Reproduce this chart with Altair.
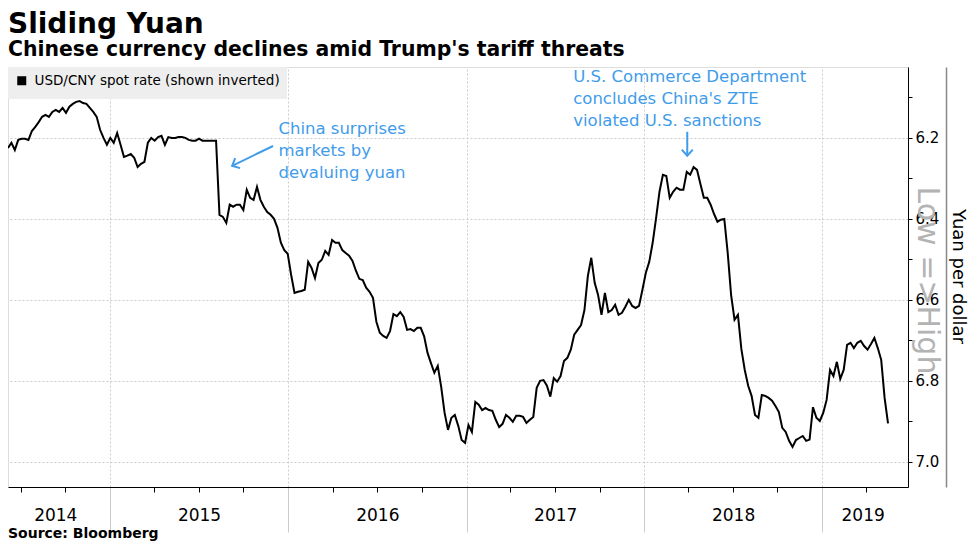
import altair as alt
import pandas as pd

FONT = "DejaVu Sans"
BLUE = "#3f9ceb"

title_text = "Sliding Yuan"
subtitle_text = "Chinese currency declines amid Trump's tariff threats"
source_text = "Source: Bloomberg"
series_name = "USD/CNY spot rate (shown inverted)"
y_title = "Yuan per dollar"
direction_title = "Low =>High"

# weekly USD/CNY readings, starting 2014-06-05
start_date = "2014-06-05"
usdcny = [
    6.225, 6.212, 6.230, 6.205, 6.202, 6.202, 6.205, 6.183, 6.173, 6.161,
    6.148, 6.143, 6.148, 6.136, 6.131, 6.136, 6.126, 6.138, 6.123, 6.116,
    6.111, 6.109, 6.114, 6.116, 6.126, 6.136, 6.148, 6.180, 6.200, 6.217,
    6.200, 6.212, 6.188, 6.217, 6.247, 6.244, 6.240, 6.249, 6.272, 6.264,
    6.259, 6.212, 6.200, 6.207, 6.198, 6.195, 6.217, 6.198, 6.200, 6.200,
    6.198, 6.198, 6.200, 6.205, 6.207, 6.207, 6.202, 6.207, 6.207, 6.207,
    6.207, 6.207, 6.390, 6.395, 6.410, 6.365, 6.370, 6.365, 6.365, 6.378,
    6.328, 6.348, 6.353, 6.321, 6.353, 6.370, 6.383, 6.390, 6.400, 6.422,
    6.459, 6.477, 6.486, 6.538, 6.583, 6.580, 6.578, 6.575, 6.506, 6.521,
    6.546, 6.509, 6.501, 6.479, 6.489, 6.452, 6.459, 6.459, 6.477, 6.484,
    6.491, 6.504, 6.528, 6.548, 6.551, 6.570, 6.580, 6.595, 6.654, 6.681,
    6.689, 6.694, 6.677, 6.635, 6.640, 6.630, 6.642, 6.674, 6.672, 6.677,
    6.669, 6.669, 6.690, 6.731, 6.756, 6.780, 6.763, 6.815, 6.879, 6.921,
    6.891, 6.884, 6.911, 6.946, 6.953, 6.909, 6.926, 6.852, 6.859, 6.872,
    6.867, 6.872, 6.874, 6.896, 6.914, 6.906, 6.884, 6.891, 6.901, 6.886,
    6.886, 6.889, 6.904, 6.896, 6.889, 6.817, 6.800, 6.798, 6.812, 6.839,
    6.793, 6.802, 6.788, 6.751, 6.743, 6.723, 6.686, 6.674, 6.662, 6.625,
    6.541, 6.496, 6.558, 6.588, 6.637, 6.583, 6.630, 6.625, 6.612, 6.637,
    6.632, 6.617, 6.600, 6.615, 6.620, 6.615, 6.575, 6.533, 6.506, 6.459,
    6.398, 6.333, 6.291, 6.294, 6.348, 6.333, 6.323, 6.328, 6.328, 6.284,
    6.291, 6.272, 6.279, 6.314, 6.348, 6.348, 6.365, 6.388, 6.407, 6.402,
    6.400, 6.484, 6.588, 6.649, 6.637, 6.721, 6.773, 6.812, 6.837, 6.884,
    6.891, 6.835, 6.837, 6.842, 6.849, 6.862, 6.877, 6.916, 6.926, 6.948,
    6.963, 6.946, 6.941, 6.936, 6.948, 6.945, 6.865, 6.891, 6.899, 6.879,
    6.847, 6.773, 6.788, 6.753, 6.795, 6.773, 6.711, 6.706, 6.719, 6.706,
    6.701, 6.714, 6.723, 6.709, 6.694, 6.719, 6.748, 6.842, 6.905,
]

x_domain = ["2014-06-05", "2019-06-26"]
y_domain = [6.025, 7.062]
years = [2014, 2015, 2016, 2017, 2018, 2019]
year_label_dates = ["2014-09-10", "2015-07-02", "2016-07-02", "2017-07-02", "2018-07-02", "2019-03-25"]
y_ticks = [6.1, 6.2, 6.3, 6.4, 6.5, 6.6, 6.7, 6.8, 6.9, 7.0]
y_grid = [6.2, 6.4, 6.6, 6.8, 7.0]

ann_dates = ["2015-12-12", "2017-08-08"]
ann_values = [6.158, 6.030]
ann_texts = ["China surprises\nmarkets by\ndevaluing yuan",
             "U.S. Commerce Department\nconcludes China's ZTE\nviolated U.S. sanctions"]
arrow_start_dates = ["2015-12-01", "2018-03-30"]
arrow_start_values = [6.220, 6.185]
arrow_end_dates = ["2015-09-08", "2018-03-30"]
arrow_end_values = [6.269, 6.244]
arrow_angles = [64, 0]


def dt(s):
    t = pd.Timestamp(s)
    return alt.DateTime(year=t.year, month=t.month, date=t.day)


lo, hi = pd.Timestamp(x_domain[0]), pd.Timestamp(x_domain[1])
quarter_ticks = [dt(f"{y}-{m:02d}-01") for y in years for m in (4, 7, 10)
                 if lo <= pd.Timestamp(f"{y}-{m:02d}-01") <= hi]
year_ticks = [dt(f"{y}-01-01") for y in years if lo <= pd.Timestamp(f"{y}-01-01") <= hi]
year_labels = [dt(s) for s in year_label_dates]

df = pd.DataFrame({
    "date": pd.date_range(start_date, periods=len(usdcny), freq="7D"),
    "rate": usdcny,
    "series": series_name,
})

xscale = alt.Scale(domain=[dt(x_domain[0]), dt(x_domain[1])])
yscale = alt.Scale(domain=y_domain, reverse=True, zero=False, nice=False)

base = alt.Chart(df)

main = base.mark_line(strokeWidth=2).encode(
    x=alt.X("date:T", scale=xscale, axis=alt.Axis(
        orient="bottom", values=quarter_ticks, labels=False, tickSize=5,
        tickColor="black", domainColor="black", grid=False, title=None)),
    y=alt.Y("rate:Q", scale=yscale, axis=alt.Axis(
        orient="right", values=y_ticks,
        labelExpr="round(datum.value*10) % 2 == 0 ? format(datum.value, '.1f') : ''",
        tickSize=4, tickColor="black", domainColor="black", grid=False,
        labelFontSize=15, labelColor="black", labelPadding=3, labelFont=FONT,
        title=direction_title, titleColor="#b3b3b3", titleFontSize=30,
        titleFontWeight="normal", titleFont=FONT, titleAngle=90, titleX=18, titleY=213,
        titleAlign="center", titleBaseline="middle")),
    color=alt.Color("series:N", scale=alt.Scale(range=["black"]), legend=alt.Legend(
        title=None, orient="top-left", offset=0, fillColor="#eeeeee", padding=7,
        symbolType="square", symbolSize=25, symbolStrokeWidth=4,
        symbolStrokeColor="black", symbolFillColor="black", labelLimit=500,
        labelFontSize=13.5, labelColor="black", labelFont=FONT, labelOffset=6)),
)

grid_layer = base.mark_line(strokeOpacity=0).encode(
    x=alt.X("date:T", scale=xscale, axis=alt.Axis(
        orient="bottom", values=year_ticks, labels=False, tickSize=45,
        tickColor="#cccccc", domain=False, grid=True, gridColor="#cccccc",
        gridDash=[2, 2], title=None)),
    y=alt.Y("rate:Q", scale=yscale, axis=alt.Axis(
        orient="right", values=y_grid, grid=True, gridColor="#cccccc",
        gridDash=[2, 2], ticks=False, labels=False, domain=False, title=None)),
)

label_layer = base.mark_line(strokeOpacity=0).encode(
    x=alt.X("date:T", scale=xscale, axis=alt.Axis(
        orient="bottom", values=year_labels, format="%Y", labelFontSize=17,
        labelFont=FONT, labelColor="black", labelPadding=20, ticks=False,
        domain=False, grid=False, labelFlush=False, labelOverlap=False, title=None)),
    y=alt.Y("rate:Q", scale=yscale, axis=alt.Axis(
        orient="right", offset=38, domainColor="#888888", domainWidth=1.5, ticks=False,
        labels=False, grid=False, title=y_title, titleFontSize=18,
        titleFontWeight="normal", titleFont=FONT, titleColor="black",
        titleAngle=90, titleX=11, titleY=209, titleAlign="center",
        titleBaseline="middle")),
)

ann_df = pd.DataFrame({"date": pd.to_datetime(ann_dates), "value": ann_values, "text": ann_texts})
ann = alt.Chart(ann_df).mark_text(
    align="left", baseline="top", font=FONT, fontSize=16.5, color=BLUE,
    lineBreak="\n", lineHeight=22,
).encode(
    x=alt.X("date:T", scale=xscale, axis=None),
    y=alt.Y("value:Q", scale=yscale, axis=None),
    text="text:N",
)

arrow_df = pd.DataFrame({
    "d1": pd.to_datetime(arrow_start_dates), "v1": arrow_start_values,
    "d2": pd.to_datetime(arrow_end_dates), "v2": arrow_end_values,
    "angle": arrow_angles,
})
arrow_lines = alt.Chart(arrow_df).mark_rule(color=BLUE, strokeWidth=2).encode(
    x=alt.X("d1:T", scale=xscale, axis=None), x2="d2:T",
    y=alt.Y("v1:Q", scale=yscale, axis=None), y2="v2:Q",
)
arrow_heads = alt.Chart(arrow_df).mark_point(
    shape="M-0.9,-1L0,0L0.9,-1", filled=False, color=BLUE, strokeWidth=2,
    size=150, opacity=1,
).encode(
    x=alt.X("d2:T", scale=xscale, axis=None),
    y=alt.Y("v2:Q", scale=yscale, axis=None),
    angle=alt.Angle("angle:Q", scale=None),
)

text_df = pd.DataFrame({"title": [title_text], "subtitle": [subtitle_text], "source": [source_text]})
title_mark = alt.Chart(text_df).mark_text(
    align="left", baseline="alphabetic", font=FONT, fontSize=28, fontWeight="bold", color="black"
).encode(text="title:N", x=alt.value(0), y=alt.value(-34))
subtitle_mark = alt.Chart(text_df).mark_text(
    align="left", baseline="alphabetic", font=FONT, fontSize=20.4, fontWeight="bold", color="black"
).encode(text="subtitle:N", x=alt.value(0), y=alt.value(-11))
source_mark = alt.Chart(text_df).mark_text(
    align="left", baseline="alphabetic", font=FONT, fontSize=14, fontWeight="bold", color="black"
).encode(text="source:N", x=alt.value(0), y=alt.value(471))

chart = alt.layer(
    grid_layer, label_layer, main, arrow_lines, arrow_heads, ann,
    title_mark, subtitle_mark, source_mark,
).resolve_axis(
    x="independent", y="independent"
).properties(
    width=900, height=420, autosize="none",
    padding={"left": 0, "top": 59, "right": 61, "bottom": 54},
).configure_view(stroke=None).configure(font=FONT)

chart.save("out.html", embed_options={"renderer": "svg", "actions": False})
